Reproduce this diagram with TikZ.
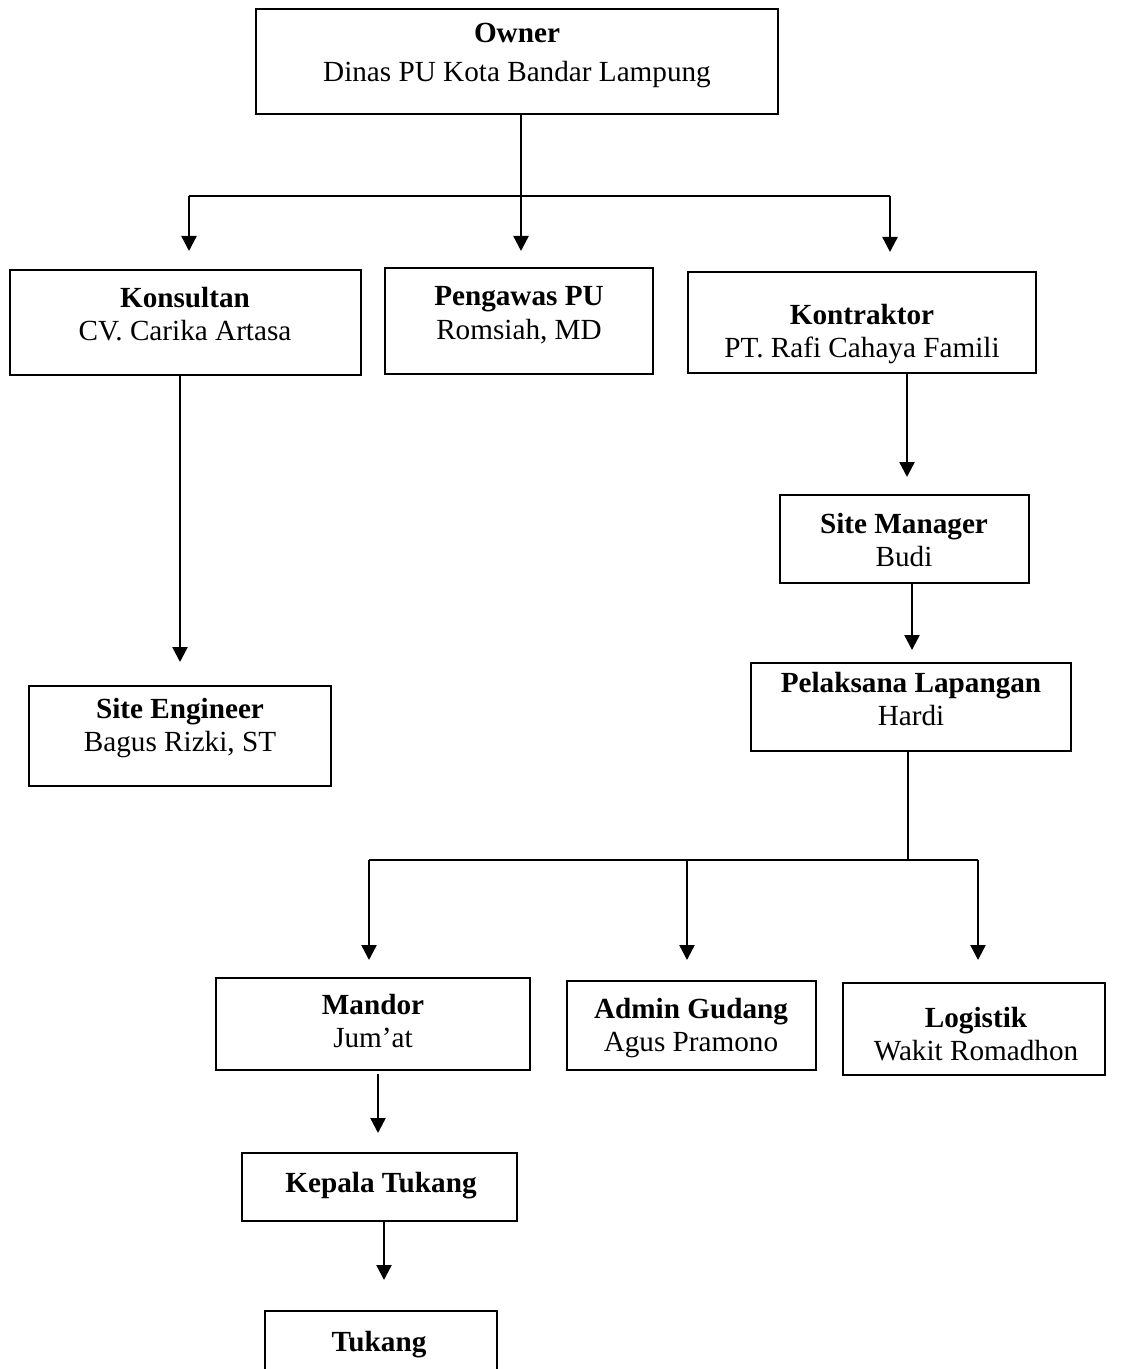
\documentclass[tikz,border=0pt]{standalone}
\usepackage{fontspec}
\setmainfont{Liberation Serif}
\usetikzlibrary{arrows.meta,fit}
\begin{document}
\begin{tikzpicture}[x=0.5pt,y=-0.5pt,line width=1.2pt,
  box/.style={draw,line width=1.2pt,inner sep=0pt},
  txt/.style={align=center,inner sep=0pt,font=\fontsize{14.6}{16.75}\selectfont},
  arr/.style={-{Triangle[width=7.5pt,length=7.5pt]}}]
\useasboundingbox (0,0) rectangle (1120,1369);
\clip (0,0) rectangle (1120,1369);
\node[box,fit={(256,9) (778,114)}] (owner) {};
\node[txt] (ownertext) at (517,55.5) {\textbf{Owner}\\[3pt]Dinas PU Kota Bandar Lampung};
\node[box,fit={(10,270) (361,375)}] (konsultan) {};
\node[txt] (konsultantext) at (185,314) {\textbf{Konsultan}\\CV. Carika Artasa};
\node[box,fit={(385,268) (653,374)}] (pengawas) {};
\node[txt] (pengawastext) at (519,315) {\textbf{Pengawas PU}\\Romsiah, MD};
\node[box,fit={(688,272) (1036,373)}] (kontraktor) {};
\node[txt] (kontraktortext) at (862,334) {\textbf{Kontraktor}\\PT. Rafi Cahaya Famili};
\node[box,fit={(29,686) (331,786)}] (siteeng) {};
\node[txt] (siteengtext) at (180,728) {\textbf{Site Engineer}\\Bagus Rizki, ST};
\node[box,fit={(780,495) (1029,583)}] (sitemgr) {};
\node[txt] (sitemgrtext) at (904,540) {\textbf{Site Manager}\\Budi};
\node[box,fit={(751,663) (1071,751)}] (pelaksana) {};
\node[txt] (pelaksanatext) at (911,699) {\textbf{Pelaksana Lapangan}\\Hardi};
\node[box,fit={(216,978) (530,1070)}] (mandor) {};
\node[txt] (mandortext) at (373,1021) {\textbf{Mandor}\\Jum’at};
\node[box,fit={(567,981) (816,1070)}] (admin) {};
\node[txt] (admintext) at (691,1028) {\textbf{Admin Gudang}\\Agus Pramono};
\node[box,fit={(843,983) (1105,1075)}] (logistik) {};
\node[txt] (logistiktext) at (976,1034) {\textbf{Logistik}\\Wakit Romadhon};
\node[box,fit={(242,1153) (517,1221)}] (kepala) {};
\node[txt] (kepalatext) at (381,1185.5) {\textbf{Kepala Tukang}};
\node[box,fit={(265,1311) (497,1400)}] (tukang) {};
\node[txt] (tukangtext) at (379,1344.5) {\textbf{Tukang}};
\coordinate (busup) at (521,196);
\coordinate (tipkons) at (189,251);
\coordinate (tippeng) at (521,251);
\coordinate (tipkont) at (890,252);
\draw (owner.south -| busup) -- (busup);
\draw (tipkons |- busup) -- (tipkont |- busup);
\draw[arr] (tipkons |- busup) -- (tipkons);
\draw[arr] (tippeng |- busup) -- (tippeng);
\draw[arr] (tipkont |- busup) -- (tipkont);
\coordinate (tipse) at (180,662);
\draw[arr] (konsultan.south -| tipse) -- (tipse);
\coordinate (tipsm) at (907,477);
\draw[arr] (kontraktor.south -| tipsm) -- (tipsm);
\coordinate (tippl) at (912,650);
\draw[arr] (sitemgr.south -| tippl) -- (tippl);
\coordinate (buslow) at (908,860);
\coordinate (tipmandor) at (369,960);
\coordinate (tipadmin) at (687,960);
\coordinate (tiplog) at (978,960);
\draw (pelaksana.south -| buslow) -- (buslow);
\draw (tipmandor |- buslow) -- (tiplog |- buslow);
\draw[arr] (tipmandor |- buslow) -- (tipmandor);
\draw[arr] (tipadmin |- buslow) -- (tipadmin);
\draw[arr] (tiplog |- buslow) -- (tiplog);
\coordinate (tipkepala) at (378,1133);
\draw[arr] ([yshift=-1.5pt]mandor.south -| tipkepala) -- (tipkepala);
\coordinate (tiptukang) at (384,1280);
\draw[arr] (kepala.south -| tiptukang) -- (tiptukang);
\end{tikzpicture}
\end{document}
